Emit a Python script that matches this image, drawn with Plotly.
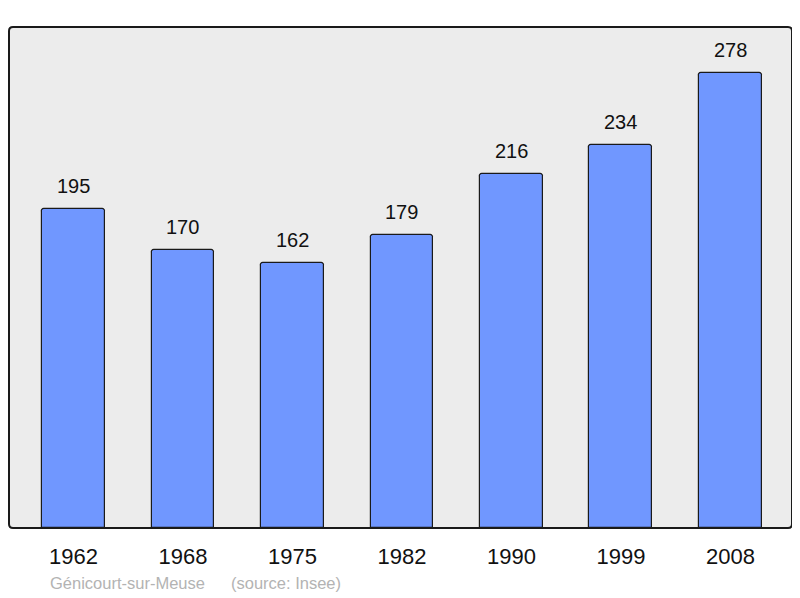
import plotly.graph_objects as go

years = ["1962", "1968", "1975", "1982", "1990", "1999", "2008"]
population = [195, 170, 162, 179, 216, 234, 278]
footer_place = "Génicourt-sur-Meuse"
footer_source = "(source: Insee)"

idx = list(range(len(years)))
# page body has an 8px margin, so design in coordinates shifted by -8
OFF = 8
W, H = 800 - OFF, 598 - OFF
L, T = 9 - OFF, 27 - OFF
R, B = W - (792 - OFF), H - (528 - OFF)
pw, ph = W - L - R, H - T - B

FONT = "Liberation Sans, Arial"

fig = go.Figure()
fig.add_trace(go.Bar(
    x=idx, y=population, width=0.575,
    marker=dict(color="#7097ff", line=dict(color="#1a1a1a", width=1.2), cornerradius=3),
    hoverinfo="skip",
))

for i, v in zip(idx, population):
    fig.add_annotation(x=i, y=v, text=str(v), showarrow=False, yanchor="bottom",
                       yshift=10, font=dict(family=FONT, size=20, color="#111"))

rx, ry = 4 / pw, 4 / ph
path = (f"M {rx},0 L {1-rx},0 Q 1,0 1,{ry} L 1,{1-ry} Q 1,1 {1-rx},1 "
        f"L {rx},1 Q 0,1 0,{1-ry} L 0,{ry} Q 0,0 {rx},0 Z")
fig.add_shape(type="path", path=path, xref="paper", yref="paper",
              fillcolor="#ececec", line=dict(width=0), layer="below")
fig.add_shape(type="path", path=path, xref="paper", yref="paper",
              fillcolor="rgba(0,0,0,0)", line=dict(color="#1a1a1a", width=2), layer="above")

for txt, px in [(footer_place, 48), (footer_source, 229)]:
    fig.add_annotation(x=(px - 9) / pw, y=-(583 - 528) / ph, xref="paper", yref="paper",
                       text=txt, showarrow=False, xanchor="left", yanchor="middle",
                       font=dict(family=FONT, size=16.5, color="#b3b3b3"))

fig.update_layout(
    width=W, height=H,
    margin=dict(l=L, r=R, t=T, b=B, autoexpand=False),
    paper_bgcolor="white", plot_bgcolor="rgba(0,0,0,0)",
    showlegend=False,
    bargap=0,
    xaxis=dict(range=[-0.589, 6.562], tickvals=idx, ticktext=years, showgrid=False,
               zeroline=False, showline=False, ticks="", ticklabelstandoff=13,
               tickfont=dict(family=FONT, size=22, color="#111"),
               fixedrange=True),
    yaxis=dict(range=[0, 306.1], showgrid=False, zeroline=False, showticklabels=False,
               showline=False, ticks="", fixedrange=True),
)

fig.write_html("out.html")
